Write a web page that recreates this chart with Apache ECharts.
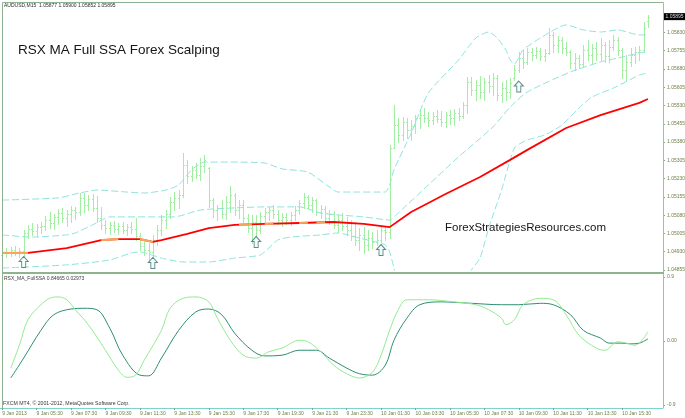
<!DOCTYPE html>
<html><head><meta charset="utf-8">
<script src="https://cdn.jsdelivr.net/npm/echarts/dist/echarts.min.js"></script>
<style>html,body{margin:0;padding:0;background:#fff}#c{width:685px;height:418px}</style>
</head><body><div id="c"></div>
<script>
const headerText = 'AUDUSD,M15  1.05877 1.05900 1.05852 1.05895';
const titleText = 'RSX MA Full SSA Forex Scalping';
const siteText = 'ForexStrategiesResources.com';
const indicatorText = 'RSX_MA_FullSSA 0.84665 0.02973';
const copyrightText = 'FXCM MT4, \u00a9 2001-2012, MetaQuotes Software Corp.';

const dateTicks = ['9 Jan 2013','9 Jan 05:30','9 Jan 07:30','9 Jan 09:30','9 Jan 11:30','9 Jan 13:30','9 Jan 15:30','9 Jan 17:30','9 Jan 19:30','9 Jan 21:30','9 Jan 23:30','10 Jan 01:30','10 Jan 03:30','10 Jan 05:30','10 Jan 07:30','10 Jan 09:30','10 Jan 11:30','10 Jan 13:30','10 Jan 15:30'];
const barsPerTick = 8;
const slotCount = 154;

const open = [1.04917,1.04925,1.04929,1.04937,1.04929,1.04933,1.05007,1.05023,1.05015,1.05031,1.05036,1.05060,1.05048,1.05073,1.05089,1.05068,1.05085,1.05101,1.05093,1.05151,1.05122,1.05146,1.05110,1.05068,1.05040,1.05027,1.05040,1.05023,1.05036,1.05019,1.05031,1.05023,1.04995,1.04954,1.04937,1.04929,1.04978,1.05019,1.05060,1.05085,1.05134,1.05151,1.05163,1.05286,1.05241,1.05266,1.05245,1.05282,1.05274,1.05142,1.05101,1.05110,1.05085,1.05134,1.05163,1.05101,1.05122,1.05068,1.05027,1.05052,1.05019,1.05077,1.05093,1.05101,1.05085,1.05060,1.05073,1.05060,1.05081,1.05101,1.05130,1.05155,1.05122,1.05142,1.05093,1.05105,1.05068,1.05085,1.05040,1.05060,1.05036,1.05019,1.04995,1.04978,1.04999,1.04958,1.04986,1.04970,1.04978,1.05019,1.05011,1.05356,1.05450,1.05409,1.05463,1.05430,1.05446,1.05479,1.05491,1.05479,1.05471,1.05487,1.05475,1.05463,1.05491,1.05479,1.05500,1.05487,1.05532,1.05627,1.05594,1.05614,1.05586,1.05627,1.05610,1.05643,1.05573,1.05602,1.05586,1.05643,1.05676,1.05725,1.05709,1.05750,1.05738,1.05754,1.05733,1.05746,1.05820,1.05779,1.05799,1.05766,1.05750,1.05705,1.05725,1.05701,1.05758,1.05738,1.05766,1.05742,1.05779,1.05733,1.05770,1.05799,1.05758,1.05676,1.05709,1.05738,1.05750,1.05758,1.05877];
const high = [1.04937,1.04945,1.04949,1.04954,1.04945,1.05019,1.05040,1.05048,1.05044,1.05052,1.05077,1.05093,1.05085,1.05105,1.05110,1.05101,1.05118,1.05114,1.05171,1.05171,1.05163,1.05167,1.05159,1.05114,1.05060,1.05052,1.05056,1.05048,1.05052,1.05044,1.05052,1.05068,1.05007,1.04978,1.04966,1.04999,1.05040,1.05081,1.05101,1.05155,1.05175,1.05183,1.05335,1.05307,1.05282,1.05294,1.05315,1.05327,1.05278,1.05151,1.05122,1.05142,1.05159,1.05200,1.05171,1.05142,1.05142,1.05085,1.05081,1.05081,1.05093,1.05110,1.05114,1.05122,1.05101,1.05089,1.05089,1.05093,1.05118,1.05142,1.05171,1.05163,1.05155,1.05146,1.05122,1.05118,1.05101,1.05097,1.05081,1.05089,1.05073,1.05060,1.05052,1.05027,1.05031,1.05019,1.05011,1.05019,1.05036,1.05036,1.05368,1.05532,1.05479,1.05483,1.05479,1.05471,1.05491,1.05512,1.05520,1.05504,1.05504,1.05512,1.05508,1.05504,1.05512,1.05516,1.05520,1.05545,1.05647,1.05647,1.05635,1.05651,1.05643,1.05655,1.05664,1.05655,1.05627,1.05635,1.05643,1.05697,1.05750,1.05758,1.05766,1.05766,1.05770,1.05766,1.05762,1.05848,1.05832,1.05816,1.05811,1.05791,1.05758,1.05746,1.05738,1.05779,1.05799,1.05783,1.05791,1.05807,1.05791,1.05799,1.05820,1.05811,1.05766,1.05738,1.05766,1.05770,1.05775,1.05873,1.05900];
const low = [1.04888,1.04908,1.04912,1.04917,1.04908,1.04912,1.04986,1.04999,1.04995,1.05007,1.05019,1.05027,1.05023,1.05044,1.05052,1.05036,1.05052,1.05064,1.05081,1.05093,1.05101,1.05097,1.05052,1.05023,1.05007,1.05003,1.05011,1.05003,1.05007,1.04999,1.05007,1.04978,1.04937,1.04917,1.04888,1.04904,1.04958,1.04999,1.05027,1.05068,1.05101,1.05110,1.05155,1.05212,1.05220,1.05233,1.05225,1.05257,1.05114,1.05073,1.05060,1.05068,1.05064,1.05093,1.05081,1.05068,1.05052,1.05011,1.04966,1.04995,1.05007,1.05044,1.05060,1.05068,1.05044,1.05036,1.05044,1.05040,1.05060,1.05085,1.05110,1.05110,1.05093,1.05081,1.05068,1.05052,1.05044,1.05027,1.05011,1.05019,1.04999,1.04978,1.04958,1.04937,1.04925,1.04937,1.04945,1.04958,1.04970,1.04978,1.04986,1.05356,1.05380,1.05389,1.05397,1.05389,1.05417,1.05438,1.05463,1.05446,1.05454,1.05463,1.05446,1.05442,1.05454,1.05450,1.05471,1.05479,1.05500,1.05573,1.05553,1.05561,1.05553,1.05586,1.05573,1.05553,1.05545,1.05553,1.05561,1.05635,1.05668,1.05684,1.05701,1.05717,1.05725,1.05717,1.05713,1.05742,1.05750,1.05750,1.05746,1.05738,1.05684,1.05676,1.05684,1.05692,1.05717,1.05705,1.05717,1.05717,1.05709,1.05709,1.05758,1.05738,1.05643,1.05635,1.05692,1.05705,1.05717,1.05750,1.05852];
const close = [1.04925,1.04929,1.04937,1.04929,1.04933,1.05007,1.05023,1.05015,1.05031,1.05036,1.05060,1.05048,1.05073,1.05089,1.05068,1.05085,1.05101,1.05093,1.05151,1.05122,1.05146,1.05110,1.05068,1.05040,1.05027,1.05040,1.05023,1.05036,1.05019,1.05031,1.05023,1.04995,1.04954,1.04937,1.04929,1.04978,1.05019,1.05060,1.05085,1.05134,1.05151,1.05163,1.05286,1.05241,1.05266,1.05245,1.05282,1.05307,1.05142,1.05101,1.05110,1.05085,1.05134,1.05163,1.05101,1.05122,1.05068,1.05027,1.05052,1.05019,1.05077,1.05093,1.05101,1.05085,1.05060,1.05073,1.05060,1.05081,1.05101,1.05130,1.05155,1.05122,1.05142,1.05093,1.05105,1.05068,1.05085,1.05040,1.05060,1.05036,1.05019,1.04995,1.04978,1.04999,1.04958,1.04986,1.04970,1.04978,1.05019,1.05011,1.05356,1.05450,1.05409,1.05463,1.05430,1.05446,1.05479,1.05491,1.05479,1.05471,1.05487,1.05475,1.05463,1.05491,1.05479,1.05500,1.05487,1.05532,1.05627,1.05594,1.05614,1.05586,1.05627,1.05610,1.05643,1.05573,1.05602,1.05586,1.05623,1.05676,1.05725,1.05709,1.05750,1.05738,1.05754,1.05733,1.05746,1.05820,1.05779,1.05799,1.05766,1.05750,1.05705,1.05725,1.05701,1.05758,1.05738,1.05766,1.05742,1.05779,1.05733,1.05770,1.05799,1.05758,1.05676,1.05709,1.05738,1.05750,1.05758,1.05848,1.05895];

const upperBand = [[0,1.05142],[13,1.05151],[18,1.05171],[22,1.05183],[29,1.05175],[33,1.05171],[38,1.05183],[41,1.05204],[44,1.05266],[47,1.05298],[53,1.05298],[61,1.05294],[65,1.05270],[71,1.05257],[76,1.05196],[78,1.05175],[83,1.05175],[89,1.05175],[90,1.05204],[91,1.05266],[95,1.05417],[99,1.05582],[106,1.05717],[110,1.05807],[113,1.05832],[115,1.05807],[117,1.05758],[118,1.05717],[119,1.05701],[121,1.05758],[125,1.05807],[131,1.05861],[135,1.05840],[139,1.05832],[143,1.05840],[148,1.05820],[150,1.05820]];
const middleBand = [[0,1.04999],[7,1.04990],[15,1.04999],[17,1.05007],[21,1.05040],[25,1.05073],[40,1.05073],[46,1.05101],[54,1.05110],[61,1.05114],[69,1.05114],[74,1.05089],[78,1.05081],[84,1.05073],[90,1.05060],[92,1.05089],[99,1.05204],[106,1.05319],[114,1.05442],[118,1.05524],[122,1.05586],[132,1.05668],[139,1.05709],[143,1.05725],[148,1.05746],[150,1.05750]];
const lowerBand = [[0,1.04863],[15,1.04876],[25,1.04896],[30,1.04925],[32,1.04929],[37,1.04904],[42,1.04888],[48,1.04888],[54,1.04904],[60,1.04917],[64,1.04978],[67,1.04990],[74,1.04999],[78,1.05007],[83,1.04986],[89,1.04958],[90,1.04929],[91,1.04863],[92,1.04773],[97,1.04609],[104,1.04650],[107,1.04773],[109,1.04855],[111,1.04904],[113,1.05027],[116,1.05183],[119,1.05356],[122,1.05389],[126,1.05409],[130,1.05450],[134,1.05520],[137,1.05565],[142,1.05602],[148,1.05655],[150,1.05664]];
const maLine = [[0,1.04925],[6,1.04925],[15,1.04945],[23,1.04978],[27,1.04982],[32,1.04982],[35,1.04970],[37,1.04978],[43,1.05003],[48,1.05027],[54,1.05040],[61,1.05044],[69,1.05048],[77,1.05052],[84,1.05044],[90,1.05031],[95,1.05093],[103,1.05167],[111,1.05237],[118,1.05307],[122,1.05348],[131,1.05438],[139,1.05491],[148,1.05541],[150,1.05557]];
const maFlatSegments = [
  [[0,1.04925],[6,1.04925]],
  [[23,1.04978],[27,1.04982]],
  [[32,1.04982],[35,1.04970]],
  [[55,1.05041],[58,1.05042]],
  [[61,1.05044],[63,1.05045]],
  [[69,1.05048],[71,1.05049]],
  [[73,1.05050],[75,1.05051]]
];
const buyArrows = [[5,1.04888],[35,1.04884],[59,1.04970],[88,1.04937],[120,1.05608]];

const rsxFast = [[2,-0.38],[4,-0.06],[6,0.30],[9,0.51],[11,0.60],[13,0.62],[15,0.58],[17,0.44],[20,0.23],[24,-0.13],[27,-0.41],[29,-0.51],[31,-0.48],[33,-0.27],[37,0.15],[39,0.46],[42,0.60],[45,0.62],[48,0.55],[50,0.32],[53,0.01],[56,-0.20],[59,-0.24],[62,-0.15],[65,-0.10],[69,0.01],[71,-0.01],[74,-0.15],[77,-0.34],[80,-0.46],[83,-0.52],[86,-0.44],[88,-0.20],[90,0.15],[92,0.44],[94,0.58],[99,0.58],[105,0.55],[110,0.51],[113,0.44],[116,0.32],[117,0.23],[119,0.30],[121,0.51],[125,0.60],[128,0.58],[131,0.37],[134,0.08],[138,-0.10],[140,-0.13],[143,-0.01],[145,-0.03],[147,-0.06],[149,0.04],[150,0.13]];
const rsxSlow = [[2,-0.52],[5,-0.24],[9,0.15],[12,0.37],[16,0.45],[19,0.46],[22,0.44],[25,0.18],[28,-0.20],[32,-0.48],[34,-0.49],[37,-0.24],[41,0.15],[45,0.41],[48,0.45],[51,0.37],[54,0.11],[58,-0.13],[61,-0.21],[65,-0.20],[69,-0.13],[73,-0.13],[76,-0.24],[80,-0.38],[83,-0.46],[86,-0.48],[89,-0.34],[91,0.01],[94,0.32],[97,0.51],[102,0.55],[109,0.53],[116,0.51],[120,0.51],[125,0.53],[128,0.51],[132,0.37],[135,0.15],[139,0.04],[141,-0.03],[144,-0.03],[146,-0.04],[148,-0.03],[150,0.03]];

const priceMin = 1.04855, priceMax = 1.05951, priceStep = 0.00075;
const lastClose = close[close.length - 1];

// category slots: 15-minute bars from 9 Jan 2013 03:30
const categories = [];
for (let k = 0; k < slotCount; k++) {
  const d = new Date(Date.UTC(2013, 0, 9, 3, 30) + k * 15 * 60000);
  const p = n => String(n).padStart(2, '0');
  categories.push(d.getUTCFullYear() + '.' + p(d.getUTCMonth() + 1) + '.' + p(d.getUTCDate()) + ' ' + p(d.getUTCHours()) + ':' + p(d.getUTCMinutes()));
}
const ohlc = open.map((o, k) => [k, o, high[k], low[k], close[k]]);

const FONT = 'Liberation Sans';
const axisTextColor = '#6f8048';
const frameColor = '#8fb28f';
const tickInterval = (idx) => idx % barsPerTick === 0 && idx / barsPerTick < dateTicks.length;

function renderOHLC(params, api) {
  const i = api.value(0);
  const pO = api.coord([i, api.value(1)]);
  const pH = api.coord([i, api.value(2)]);
  const pL = api.coord([i, api.value(3)]);
  const pC = api.coord([i, api.value(4)]);
  const x = Math.round(pO[0]) + 0.5;
  const yo = Math.round(pO[1]) + 0.5, yc = Math.round(pC[1]) + 0.5;
  const style = { stroke: '#a2eea2', lineWidth: 1 };
  return { type: 'group', children: [
    { type: 'line', shape: { x1: x, y1: Math.round(pH[1]), x2: x, y2: Math.round(pL[1]) + 1 }, style },
    { type: 'line', shape: { x1: x - 1.5, y1: yo, x2: x, y2: yo }, style },
    { type: 'line', shape: { x1: x, y1: yc, x2: x + 1.5, y2: yc }, style }
  ]};
}

const chart = echarts.init(document.getElementById('c'), null, { renderer: 'canvas' });
const series = [
  { type: 'custom', name: 'AUDUSD', xAxisIndex: 0, yAxisIndex: 0, data: ohlc, encode: { x: 0, y: [1, 2, 3, 4] }, renderItem: renderOHLC, clip: true, z: 2, silent: true },
  { type: 'line', name: 'Upper', data: upperBand, showSymbol: false, smooth: 0.2, z: 3, silent: true, lineStyle: { color: '#8fe3dc', width: 1, type: [7, 3] } },
  { type: 'line', name: 'Middle', data: middleBand, showSymbol: false, smooth: 0.2, z: 3, silent: true, lineStyle: { color: '#8fe3dc', width: 1, type: [7, 3] } },
  { type: 'line', name: 'Lower', data: lowerBand, showSymbol: false, smooth: 0.2, z: 3, silent: true, lineStyle: { color: '#8fe3dc', width: 1, type: [7, 3] } },
  { type: 'line', name: 'MA', data: maLine, showSymbol: false, z: 4, silent: true, lineStyle: { color: '#ff0000', width: 1.8 } },
  ...maFlatSegments.map(seg => ({ type: 'line', data: seg, showSymbol: false, z: 5, silent: true, lineStyle: { color: '#f5a65b', width: 2.2 } })),
  { type: 'scatter', name: 'Buy', data: buyArrows, z: 6, silent: true,
    symbol: 'path://M4.5,0 L9,5 L6.5,5 L6.5,11 L2.5,11 L2.5,5 L0,5 Z', symbolSize: [9, 11],
    itemStyle: { color: '#eefffa', borderColor: '#3d6b6b', borderWidth: 1 } },
  { type: 'line', name: 'RSX slow', xAxisIndex: 1, yAxisIndex: 1, data: rsxSlow, showSymbol: false, smooth: 0.35, z: 3, silent: true, lineStyle: { color: '#2e8f72', width: 1 } },
  { type: 'line', name: 'RSX fast', xAxisIndex: 1, yAxisIndex: 1, data: rsxFast, showSymbol: false, smooth: 0.35, z: 4, silent: true, lineStyle: { color: '#92ec92', width: 1 } }
];

const graphicBase = [
  { type: 'line', z: 100, shape: { x1: 2.5, y1: 2.5, x2: 663.5, y2: 2.5 }, style: { stroke: frameColor, lineWidth: 1 } },
  { type: 'line', z: 100, shape: { x1: 2.5, y1: 2.5, x2: 2.5, y2: 408 }, style: { stroke: frameColor, lineWidth: 1 } },
  { type: 'line', z: 100, shape: { x1: 663.5, y1: 2.5, x2: 663.5, y2: 408 }, style: { stroke: '#8cc8a4', lineWidth: 1 } },
  { type: 'rect', z: 100, shape: { x: 2, y: 272, width: 662, height: 2 }, style: { fill: frameColor } },
  { type: 'text', z: 101, x: 4, y: 6, style: { text: headerText, fill: '#2a2a2a', font: '5px "Liberation Sans"', textVerticalAlign: 'middle' } },
  { type: 'text', z: 101, x: 18, y: 50, style: { text: titleText, fill: '#151515', font: '13.5px "Liberation Sans"', textVerticalAlign: 'middle' } },
  { type: 'text', z: 101, x: 445, y: 228, style: { text: siteText, fill: '#151515', font: '11.5px "Liberation Sans"', textVerticalAlign: 'middle' } },
  { type: 'text', z: 101, x: 4, y: 279, style: { text: indicatorText, fill: '#3a3a3a', font: '5px "Liberation Sans"', textVerticalAlign: 'middle' } },
  { type: 'text', z: 101, x: 3, y: 404, style: { text: copyrightText, fill: '#3a3a3a', font: '5.2px "Liberation Sans"', textVerticalAlign: 'middle' } }
];

chart.setOption({
  animation: false,
  backgroundColor: '#ffffff',
  textStyle: { fontFamily: FONT },
  grid: [
    { left: 0, right: 22, top: 3, height: 267, outerBoundsMode: 'none', containLabel: false },
    { left: 0, right: 22, top: 277, height: 128, outerBoundsMode: 'none', containLabel: false }
  ],
  xAxis: [
    { type: 'category', gridIndex: 0, data: categories, boundaryGap: true, show: false },
    { type: 'category', gridIndex: 1, data: categories, boundaryGap: true, position: 'bottom', offset: 3,
      axisLine: { show: true, onZero: false, lineStyle: { color: '#7fd3c8', width: 1 } },
      axisTick: { show: true, alignWithLabel: true, interval: tickInterval, length: 2, lineStyle: { color: '#7faa8a' } },
      axisLabel: { interval: tickInterval, formatter: (v, idx) => dateTicks[idx / barsPerTick] || '', align: 'left', fontSize: 5, color: axisTextColor, margin: 3, fontFamily: FONT },
      splitLine: { show: false } }
  ],
  yAxis: [
    { type: 'value', gridIndex: 0, position: 'right', min: priceMin, max: priceMax, interval: priceStep,
      axisLine: { show: false }, splitLine: { show: false },
      axisTick: { show: true, length: 2, lineStyle: { color: '#7faa8a' } },
      axisLabel: { fontSize: 5, color: axisTextColor, margin: 4, showMaxLabel: false, fontFamily: FONT,
        formatter: v => (v > 1.0587 ? '' : v.toFixed(5)) } },
    { type: 'value', gridIndex: 1, position: 'right', min: -0.9, max: 0.9, interval: 0.9,
      axisLine: { show: false }, splitLine: { show: false },
      axisTick: { show: true, length: 2, lineStyle: { color: '#7faa8a' } },
      axisLabel: { fontSize: 5, color: axisTextColor, margin: 4, fontFamily: FONT,
        formatter: v => (Math.abs(v) < 1e-9 ? '0.00' : v.toFixed(1)) } }
  ],
  series,
  graphic: graphicBase
});

// current bid label placed through the price axis scale
const bidY = chart.convertToPixel({ yAxisIndex: 0 }, lastClose);
chart.setOption({
  graphic: graphicBase.concat([
    { type: 'rect', z: 102, shape: { x: 664, y: bidY - 3.5, width: 21, height: 7 }, style: { fill: '#000000' } },
    { type: 'text', z: 103, x: 665.5, y: bidY, style: { text: lastClose.toFixed(5), fill: '#dcdcdc', font: '5px "Liberation Sans"', textVerticalAlign: 'middle' } }
  ])
});
</script></body></html>
